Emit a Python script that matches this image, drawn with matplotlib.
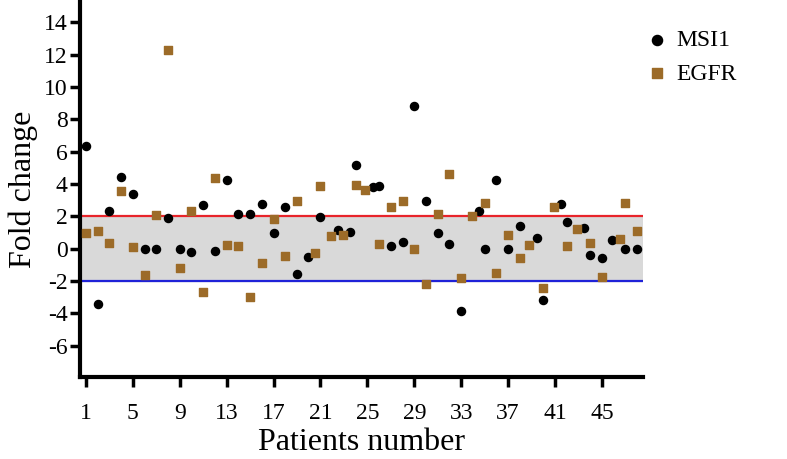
import matplotlib
matplotlib.use("Agg")
from matplotlib import pyplot as plt

# patient position (as drawn, incl. the small spread where points overlap) and fold change
msi1_x = [1, 2, 3, 4, 5, 6, 7, 8, 9, 10, 11, 12, 13, 14, 15, 16, 17, 18, 19, 19.9,
          21, 22.5, 23.5, 24, 25.5, 26, 27, 28, 29, 30, 31, 32, 33, 34.5, 35, 36,
          37, 38, 39.5, 40, 41.5, 42, 43.5, 44, 45, 45.9, 47, 48]
msi1_y = [6.33, -3.42, 2.31, 4.46, 3.37, 0.0, 0.0, 1.9, 0.0, -0.18, 2.68, -0.15,
          4.25, 2.14, 2.16, 2.74, 0.97, 2.55, -1.55, -0.5, 1.96, 1.16, 1.05, 5.18,
          3.8, 3.9, 0.17, 0.42, 8.83, 2.92, 0.97, 0.3, -3.85, 2.31, 0.0, 4.25,
          0.0, 1.4, 0.66, -3.19, 2.74, 1.63, 1.26, -0.4, -0.55, 0.52, 0.0, 0.0]

egfr_x = [1, 2, 3, 4, 5, 6, 7, 8, 9, 10, 11, 12, 13, 14, 15, 16, 17, 18, 19, 20.5,
          21, 21.9, 22.9, 24, 24.8, 26, 27, 28, 29, 30, 31, 32, 33, 33.9, 35, 36,
          37, 38, 38.8, 40, 40.9, 42, 42.9, 44, 45, 46.5, 47, 48]
egfr_y = [0.99, 1.08, 0.38, 3.58, 0.11, -1.61, 2.08, 12.28, -1.2, 2.3, -2.7, 4.36,
          0.21, 0.19, -3.01, -0.89, 1.83, -0.44, 2.94, -0.26, 3.9, 0.79, 0.87, 3.95,
          3.62, 0.3, 2.57, 2.92, 0.0, -2.21, 2.16, 4.64, -1.8, 2.0, 2.8, -1.49,
          0.87, -0.55, 0.23, -2.41, 2.57, 0.15, 1.24, 0.36, -1.78, 0.58, 2.84, 1.1]

x_ticks = list(range(1, 46, 4))
y_ticks = list(range(-6, 15, 2))
upper_cut = 2
lower_cut = -2

plt.rcParams["font.family"] = ["Liberation Serif", "DejaVu Serif"]
plt.rcParams["axes.unicode_minus"] = False

fig = plt.figure(figsize=(7.87, 4.59), dpi=100)
ax = fig.add_axes([0.1017, 0.179, 0.7153, 0.818])

ax.axhspan(lower_cut, upper_cut, color="#d9d9d9", zorder=0)
ax.axhline(upper_cut, color="#e8242a", lw=1.6, zorder=1)
ax.axhline(lower_cut, color="#1f22d8", lw=1.6, zorder=1)

ax.scatter(msi1_x, msi1_y, s=34, marker="o", color="black", label="MSI1", zorder=3)
ax.scatter(egfr_x, egfr_y, s=32, marker="s", color="#9c6b28", label="EGFR", zorder=3)

ax.set_xlim(0.5, 48.5)
ax.set_ylim(-7.93, 15.3)
ax.set_xticks(x_ticks)
ax.set_yticks(y_ticks)
ax.tick_params(labelsize=17, width=2.5, length=7, direction="out", pad=2)
ax.tick_params(axis="x", pad=12)

for side in ["top", "right"]:
    ax.spines[side].set_visible(False)
for side in ["left", "bottom"]:
    ax.spines[side].set_linewidth(3)

ax.set_xlabel("Patients number", fontsize=23, labelpad=3)
ax.set_ylabel("Fold change", fontsize=23, labelpad=4)

ax.legend(loc="upper left", bbox_to_anchor=(1.0, 0.937), frameon=False,
          fontsize=17, handlelength=0.8, handletextpad=0.4, labelspacing=0.5,
          markerscale=1.25, borderaxespad=0, borderpad=0.2)

fig.savefig("out.png", dpi=100)
